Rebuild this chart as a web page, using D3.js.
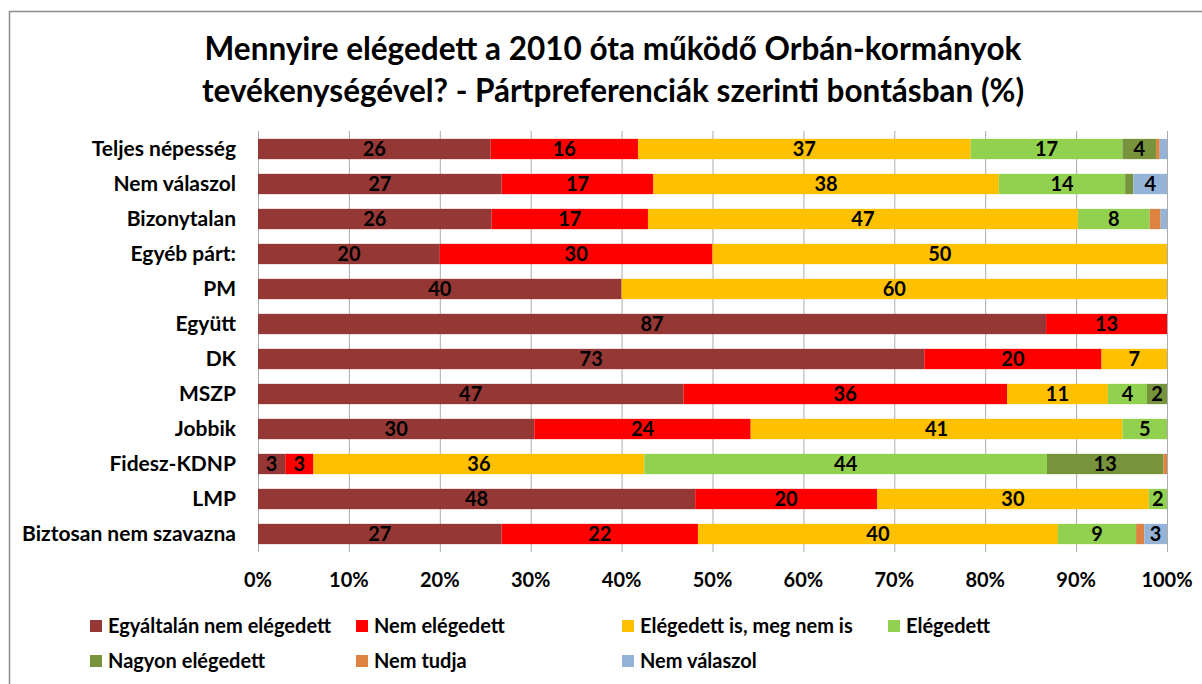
<!DOCTYPE html>
<html>
<head>
<meta charset="utf-8">
<script src="https://cdn.jsdelivr.net/npm/d3@7"></script>
<style>
  body { margin: 0; background: #fff; }
  text { font-family: Lato, "Open Sans", sans-serif; }
</style>
</head>
<body>
<div id="chart"></div>
<script>
// adatok
const categories = ["Teljes népesség", "Nem válaszol", "Bizonytalan", "Egyéb párt:", "PM", "Együtt",
    "DK", "MSZP", "Jobbik", "Fidesz-KDNP", "LMP", "Biztosan nem szavazna"];
const seriesNames = ["Egyáltalán nem elégedett", "Nem elégedett", "Elégedett is, meg nem is", "Elégedett",
    "Nagyon elégedett", "Nem tudja", "Nem válaszol"];
const colors = ["#953735", "#FF0000", "#FFC000", "#92D050", "#77933C", "#DD8241", "#95B3D7"];

const egyaltalanNem = [25.6, 26.8, 25.7, 20, 40, 86.7, 73.3, 46.8, 30.4, 3.0, 48.1, 26.8];
const nemElegedett  = [16.2, 16.7, 17.2, 30, 0, 13.3, 19.5, 35.6, 23.8, 3.1, 20.0, 21.6];
const koztes        = [36.6, 38.0, 47.3, 50, 60, 0, 7.2, 11.1, 40.9, 36.4, 29.9, 39.6];
const elegedett     = [16.7, 13.9, 7.9, 0, 0, 0, 0, 4.3, 4.9, 44.3, 2.0, 8.6];
const nagyonEleg    = [3.7, 0.9, 0, 0, 0, 0, 0, 2.2, 0, 12.8, 0, 0];
const nemTudja      = [0.4, 0, 1.2, 0, 0, 0, 0, 0, 0, 0.4, 0, 0.9];
const nemValaszol   = [0.8, 3.7, 0.7, 0, 0, 0, 0, 0, 0, 0, 0, 2.5];
const tickLabels = ["0%", "10%", "20%", "30%", "40%", "50%", "60%", "70%", "80%", "90%", "100%"];

const series = [egyaltalanNem, nemElegedett, koztes, elegedett, nagyonEleg, nemTudja, nemValaszol];
const rows = categories.map((c, i) => {
    const r = { cat: c };
    seriesNames.forEach((s, j) => r[s] = series[j][i]);
    return r;
});

const W = 1202, H = 684;
const svg = d3.select("#chart").append("svg")
    .attr("width", W).attr("height", H);

// keret
svg.append("rect")
    .attr("x", 9.5).attr("y", 11.5)
    .attr("width", W + 20).attr("height", H + 20)
    .attr("fill", "none").attr("stroke", "#8c8c8c").attr("stroke-width", 1.5);

svg.append("text").attr("x", 613).attr("y", 60)
    .attr("text-anchor", "middle").attr("font-size", 31.5).attr("font-weight", "bold")
    .text("Mennyire elégedett a 2010 óta működő Orbán-kormányok");
svg.append("text").attr("x", 613).attr("y", 102)
    .attr("text-anchor", "middle").attr("font-size", 31.5).attr("font-weight", "bold")
    .text("tevékenységével? - Pártpreferenciák szerinti bontásban (%)");

const x = d3.scaleLinear().domain([0, 100]).range([258, 1167]);
const y = d3.scaleBand().domain(categories).range([131.5, 551.5]).paddingInner(0.42).paddingOuter(0.21);

// rácsvonalak
svg.append("g").selectAll("line")
    .data(d3.range(0, 101, 10))
    .join("line")
    .attr("x1", d => x(d) + 0.5).attr("x2", d => x(d) + 0.5)
    .attr("y1", 131).attr("y2", 552)
    .attr("stroke", "#ababab").attr("stroke-width", 1);

const stack = d3.stack().keys(seriesNames)(rows);

const layers = svg.append("g").selectAll("g")
    .data(stack)
    .join("g")
    .attr("fill", (d, i) => colors[i]);

layers.selectAll("rect")
    .data(d => d)
    .join("rect")
    .attr("x", d => x(d[0]))
    .attr("width", d => x(d[1]) - x(d[0]))
    .attr("y", d => y(d.data.cat))
    .attr("height", y.bandwidth());

layers.selectAll("text")
    .data(d => d.filter(v => v[1] - v[0] >= 1.5))
    .join("text")
    .attr("x", d => (x(d[0]) + x(d[1])) / 2)
    .attr("y", d => y(d.data.cat) + y.bandwidth() / 2 + 7)
    .attr("text-anchor", "middle")
    .attr("font-size", 20).attr("font-weight", "bold").attr("fill", "#000")
    .text(d => Math.round(d[1] - d[0]));

// kategória feliratok
svg.append("g").selectAll("text")
    .data(categories)
    .join("text")
    .attr("x", 236)
    .attr("y", d => y(d) + y.bandwidth() / 2 + 7)
    .attr("text-anchor", "end")
    .attr("font-size", 21).attr("font-weight", "bold")
    .text(d => d);

// x tengely feliratok
svg.append("g").selectAll("text")
    .data(tickLabels)
    .join("text")
    .attr("x", (d, i) => x(i * 10))
    .attr("y", 587)
    .attr("text-anchor", "middle")
    .attr("font-size", 20).attr("font-weight", "bold")
    .text(d => d);

// jelmagyarázat
const legend = svg.append("g").selectAll("g")
    .data(seriesNames)
    .join("g")
    .attr("transform", (d, i) => `translate(${90 + (i % 4) * 266},${(i < 4 ? 626 : 661)})`);
legend.append("rect")
    .attr("x", 0).attr("y", -6).attr("width", 12).attr("height", 12)
    .attr("fill", (d, i) => colors[i]);
legend.append("text")
    .attr("x", 18).attr("y", 7)
    .attr("font-size", 20).attr("font-weight", "bold")
    .text(d => d);
</script>
</body>
</html>
